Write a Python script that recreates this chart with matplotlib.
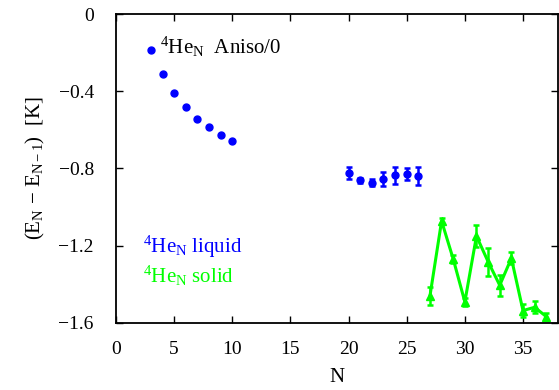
import matplotlib
matplotlib.use("Agg")
import matplotlib.pyplot as plt

plt.rcParams['font.family'] = ['Liberation Serif', 'DejaVu Serif']
plt.rcParams['mathtext.fontset'] = 'custom'
plt.rcParams['mathtext.rm'] = 'Liberation Serif'
plt.rcParams['mathtext.it'] = 'Liberation Serif:italic'
plt.rcParams['mathtext.default'] = 'regular'

# liquid, small clusters (no error bars visible)
n_small = [3, 4, 5, 6, 7, 8, 9, 10]
e_small = [-0.186, -0.312, -0.411, -0.483, -0.542, -0.587, -0.627, -0.656]

# liquid, N = 20..26
n_liq = [20, 21, 22, 23, 24, 25, 26]
e_liq = [-0.822, -0.862, -0.873, -0.854, -0.836, -0.829, -0.838]
err_liq = [0.031, 0.012, 0.016, 0.036, 0.043, 0.033, 0.048]

# solid, N = 27..37
n_sol = [27, 28, 29, 30, 31, 32, 33, 34, 35, 36, 37]
e_sol = [-1.460, -1.072, -1.269, -1.491, -1.150, -1.283, -1.405, -1.265, -1.536, -1.519, -1.567]
err_sol = [0.048, 0.017, 0.023, 0.02, 0.056, 0.072, 0.054, 0.03, 0.035, 0.03, 0.02]

yticks = [0, -0.4, -0.8, -1.2, -1.6]
ytick_labels = ["0", "\u22120.4", "\u22120.8", "\u22121.2", "\u22121.6"]
xticks = [0, 5, 10, 15, 20, 25, 30, 35]

blue = '#0000ff'
green = '#00ff00'

fig = plt.figure(figsize=(5.59, 3.9), dpi=100)
ax = fig.add_axes([0.2075, 0.172, 0.7905, 0.792])

ax.plot(n_small, e_small, 'o', color=blue, ms=5, mec=blue)
ax.errorbar(n_liq, e_liq, yerr=err_liq, fmt='o', color=blue, ms=5,
            elinewidth=1.8, capsize=2.5, capthick=1.8)
ax.errorbar(n_sol, e_sol, yerr=err_sol, fmt='-^', color=green, ms=6,
            lw=2.2, elinewidth=1.8, capsize=2.5, capthick=1.8)

ax.text(3.8, -0.17, "$^{4}$He$_{N}$  Aniso/0", fontsize=15, va='center', ha='left')
ax.text(2.3, -1.238, "$^{4}$He$_{N}$ liquid", fontsize=15, color=blue, va='baseline')
ax.text(2.3, -1.393, "$^{4}$He$_{N}$ solid", fontsize=15, color=green, va='baseline')

ax.set_xlim(0, 38)
ax.set_ylim(-1.6, 0)
ax.set_xticks(xticks)
ax.set_yticks(yticks)
ax.set_yticklabels(ytick_labels)
ax.tick_params(direction='in', top=True, right=True, labelsize=14, length=5, width=1)
ax.tick_params(axis='x', pad=13)
ax.tick_params(axis='y', pad=16)
for s in ax.spines.values():
    s.set_linewidth(1.3)

ax.set_xlabel("N", fontsize=15, labelpad=7)
ax.set_ylabel("(E$_{N}$ \u2212 E$_{N\u22121}$)  [K]", fontsize=15, labelpad=8)

fig.savefig("out.png", dpi=100)
